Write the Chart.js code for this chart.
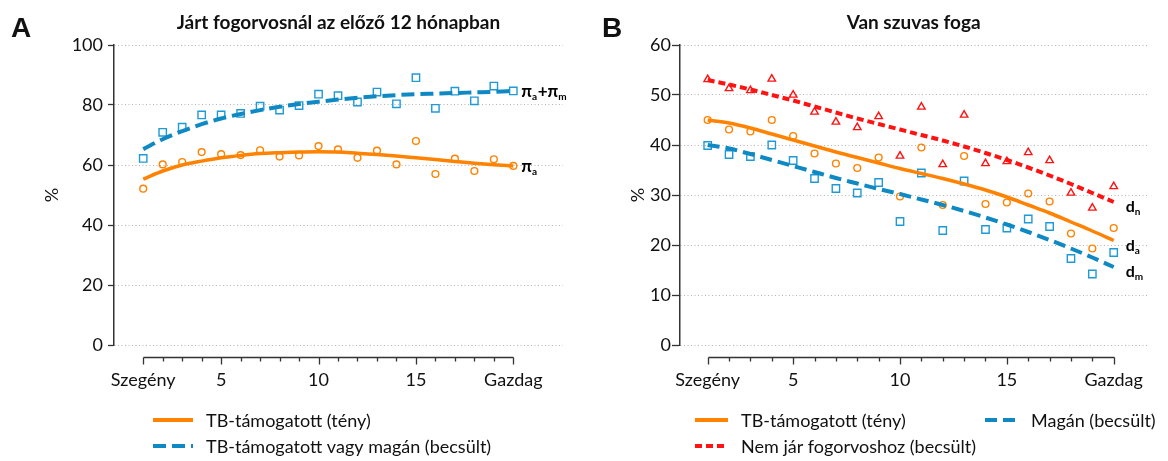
<!DOCTYPE html>
<html><head><meta charset="utf-8">
<script src="https://cdn.jsdelivr.net/npm/chart.js@4/dist/chart.umd.min.js"></script>
<style>
html,body{margin:0;padding:0;background:#fff;}
#wrap{position:relative;width:1168px;height:461px;overflow:hidden;}
.c{position:absolute;top:0;width:584px;height:461px;}
</style></head><body>
<div id="wrap">
<div class="c" style="left:0"><canvas id="cA" width="584" height="461"></canvas></div>
<div class="c" style="left:584px"><canvas id="cB" width="584" height="461"></canvas></div>
</div>
<script>
// ---------- DATA ----------
const deciles = [1,2,3,4,5,6,7,8,9,10,11,12,13,14,15,16,17,18,19,20];
const xTickValues = deciles;
const xLabelPositions = [1,5,10,15,20];
const xLabelTexts = ['Szegény','5','10','15','Gazdag'];
const yTicksA = [0,20,40,60,80,100];
const yTicksB = [0,10,20,30,40,50,60];

// Panel A: Járt fogorvosnál az előző 12 hónapban
const aTotalPts = [62.2,70.9,72.6,76.7,76.7,77.2,79.6,78.3,79.8,83.6,83.1,81.0,84.3,80.4,89.1,78.9,84.6,81.4,86.3,84.7];
const aTotalFit = [65.3,68.6,71.3,73.6,75.5,77.0,78.3,79.4,80.3,81.1,81.8,82.4,82.9,83.3,83.6,83.8,84.0,84.2,84.4,84.7];
const aPublicPts = [52.1,60.2,61.0,64.3,63.6,63.3,64.9,62.8,63.2,66.3,65.2,62.4,64.8,60.2,68.0,57.0,62.1,58.0,61.9,59.7];
const aPublicFit = [55.3,58.0,60.0,61.3,62.4,63.2,63.8,64.1,64.3,64.4,64.3,63.9,63.5,63.0,62.4,61.8,61.2,60.6,60.1,59.7];

// Panel B: Van szuvas foga
const bNonePts = [53.1,51.3,50.9,53.2,50.0,46.6,44.6,43.5,45.7,37.8,47.6,36.1,46.0,36.3,36.7,38.5,36.9,30.4,27.4,31.7];
const bNoneFit = [53.0,52.1,51.1,50.0,48.9,47.7,46.5,45.3,44.2,43.1,42.0,40.9,39.7,38.4,37.0,35.5,33.9,32.2,30.4,28.6];
const bPublicPts = [45.0,43.1,42.7,45.0,41.8,38.3,36.3,35.4,37.5,29.7,39.5,28.0,37.8,28.2,28.5,30.3,28.7,22.3,19.3,23.4];
const bPublicFit = [45.0,44.4,43.4,42.2,41.0,39.8,38.6,37.5,36.4,35.3,34.3,33.3,32.2,31.0,29.6,28.0,26.4,24.6,22.8,20.9];
const bPrivatePts = [39.9,38.1,37.7,40.0,36.9,33.3,31.3,30.4,32.5,24.7,34.4,22.9,32.8,23.1,23.4,25.2,23.7,17.3,14.2,18.5];
const bPrivateFit = [40.0,39.3,38.2,37.0,35.8,34.6,33.4,32.3,31.2,30.2,29.1,28.0,26.8,25.5,24.1,22.6,21.0,19.3,17.5,15.6];

const titleA = 'Járt fogorvosnál az előző 12 hónapban';
const titleB = 'Van szuvas foga';
const legendA = ['TB-támogatott (tény)', 'TB-támogatott vagy magán (becsült)'];
const legendB = ['TB-támogatott (tény)', 'Magán (becsült)', 'Nem jár fogorvoshoz (becsült)'];

// ---------- STYLE ----------
const ORANGE = '#FF8200';
const BLUE = '#0E89C3';
const BLUE_PT = '#1E9AD6';
const RED = '#FF1212';
const TXT = '#111';
const FONT = 'Lato, "Open Sans", sans-serif';

const xy = arr => arr.map((v, i) => ({x: deciles[i], y: v}));

function lineDs(data, color, width, dash) {
  return {data: xy(data), borderColor: color, borderWidth: width, borderDash: dash, pointRadius: 0,
    fill: false, tension: 0.4, cubicInterpolationMode: 'monotone', borderCapStyle: 'butt'};
}
function ptDs(data, color, style, r) {
  return {data: xy(data), showLine: false, borderColor: color, backgroundColor: 'rgba(0,0,0,0)',
    pointStyle: style, pointRadius: r, pointBorderWidth: 1.4, pointHoverRadius: r};
}

function drawSubLabel(ctx, x, y, parts, big, small) {
  let cx = x;
  ctx.textAlign = 'left';
  ctx.textBaseline = 'alphabetic';
  for (const p of parts) {
    ctx.font = (p.sub ? '700 ' + small + 'px ' : '700 ' + big + 'px ') + FONT;
    ctx.fillText(p.t, cx, p.sub ? y + 3 : y);
    cx += ctx.measureText(p.t).width + (p.sub ? 0.5 : 0);
  }
}

function makeDecor(p) {
  return {
    id: 'decor' + p.letter,
    afterDraw(chart) {
      const ctx = chart.ctx, xs = chart.scales.x, ys = chart.scales.y, ca = chart.chartArea;
      ctx.save();
      // x axis line with ticks (offset below plot)
      const y0 = Math.round(ca.bottom + 12) + 0.5;
      ctx.strokeStyle = '#333'; ctx.lineWidth = 1.3; ctx.setLineDash([]);
      ctx.beginPath();
      ctx.moveTo(Math.round(xs.getPixelForValue(xTickValues[0])) + 0.5, y0);
      ctx.lineTo(Math.round(xs.getPixelForValue(xTickValues[xTickValues.length - 1])) + 0.5, y0);
      for (const v of xTickValues) {
        const px = Math.round(xs.getPixelForValue(v)) + 0.5;
        const len = xLabelPositions.includes(v) ? 7 : 4;
        ctx.moveTo(px, y0); ctx.lineTo(px, y0 + len);
      }
      ctx.stroke();
      // title
      ctx.fillStyle = TXT;
      ctx.font = '700 19px ' + FONT;
      ctx.textAlign = 'center'; ctx.textBaseline = 'alphabetic';
      ctx.fillText(p.title, (ca.left + ca.right) / 2, 29);
      // panel letter
      ctx.font = '700 28px "Liberation Sans", Arial, sans-serif';
      ctx.textAlign = 'left';
      ctx.fillText(p.letter, p.letterX, 37);
      // y axis title
      ctx.save();
      ctx.translate(p.pctX, (ca.top + ca.bottom) / 2);
      ctx.rotate(-Math.PI / 2);
      ctx.font = '18px ' + FONT;
      ctx.textAlign = 'center'; ctx.textBaseline = 'middle';
      ctx.fillText('%', 0, 0);
      ctx.restore();
      // end labels
      ctx.fillStyle = '#000';
      for (const e of p.endLabels) {
        const lx = xs.getPixelForValue(deciles[deciles.length - 1]) + p.endDx;
        const ly = ys.getPixelForValue(e.v) + e.dy;
        drawSubLabel(ctx, lx, ly, e.parts, e.big, e.small);
      }
      // legend
      for (const l of p.legend) {
        ctx.strokeStyle = l.color; ctx.lineWidth = l.w; ctx.setLineDash(l.dash);
        ctx.beginPath(); ctx.moveTo(l.x, l.y); ctx.lineTo(l.x + l.len, l.y); ctx.stroke();
        ctx.setLineDash([]);
        ctx.fillStyle = TXT; ctx.font = '18px ' + FONT;
        ctx.textAlign = 'left'; ctx.textBaseline = 'middle';
        ctx.fillText(l.text, l.x + l.len + 13, l.y + 1);
      }
      ctx.restore();
    }
  };
}

function makePanel(id, p) {
  return new Chart(document.getElementById(id), {
    type: 'line',
    data: {datasets: p.datasets},
    options: {
      responsive: false, animation: false, devicePixelRatio: 1,
      events: [],
      layout: {padding: {top: 45, left: 0, right: p.padRight, bottom: 56}},
      plugins: {legend: {display: false}, tooltip: {enabled: false}, title: {display: false}},
      scales: {
        x: {
          type: 'linear', min: p.xMin, max: p.xMax,
          afterBuildTicks: s => { s.ticks = xTickValues.map(v => ({value: v})); },
          afterFit: s => { s.height = 60; },
          grid: {display: false, drawTicks: false},
          border: {display: false},
          ticks: {autoSkip: false, maxRotation: 0, minRotation: 0, padding: 24, color: TXT,
            font: {family: FONT, size: 18},
            callback: v => { const i = xLabelPositions.indexOf(v); return i >= 0 ? xLabelTexts[i] : ''; }}
        },
        y: {
          type: 'linear', min: p.yTicks[0], max: p.yTicks[p.yTicks.length - 1],
          afterBuildTicks: s => { s.ticks = p.yTicks.map(v => ({value: v})); },
          afterFit: s => { s.width = p.yAxisWidth; },
          grid: {color: '#b5b5b5', lineWidth: 1, tickLength: p.tickLen, tickColor: '#333', tickWidth: 1.3, tickBorderDash: []},
          border: {display: true, color: '#333', width: 1.5, dash: [1, 2.5]},
          ticks: {padding: p.tickPad, color: TXT, font: {family: FONT, size: 18}}
        }
      }
    },
    plugins: [makeDecor(p)]
  });
}

// Panel A
makePanel('cA', {
  letter: 'A', letterX: 11, title: titleA, pctX: 52,
  xMin: -0.5, xMax: 22.55, padRight: 21, yAxisWidth: 114, tickLen: 6, tickPad: 5,
  yTicks: yTicksA,
  datasets: [
    lineDs(aTotalFit, BLUE, 4, [13, 6]),
    lineDs(aPublicFit, ORANGE, 3.5, []),
    ptDs(aTotalPts, BLUE_PT, 'rect', 5.2),
    ptDs(aPublicPts, ORANGE, 'circle', 3.4)
  ],
  endDx: 8,
  endLabels: [
    {v: aTotalFit[aTotalFit.length - 1], dy: 6, big: 17, small: 10,
      parts: [{t: 'π'}, {t: 'a', sub: true}, {t: '+'}, {t: 'π'}, {t: 'm', sub: true}]},
    {v: aPublicFit[aPublicFit.length - 1], dy: 6.5, big: 17, small: 10,
      parts: [{t: 'π'}, {t: 'a', sub: true}]}
  ],
  legend: [
    {text: legendA[0], color: ORANGE, w: 4, dash: [], x: 153, y: 420, len: 40},
    {text: legendA[1], color: BLUE, w: 4, dash: [13, 6], x: 153, y: 446, len: 40}
  ]
});

// Panel B
makePanel('cB', {
  letter: 'B', letterX: 18, title: titleB, pctX: 54,
  xMin: -0.295, xMax: 21.57, padRight: 15, yAxisWidth: 96, tickLen: 8, tickPad: 1,
  yTicks: yTicksB,
  datasets: [
    lineDs(bNoneFit, RED, 4, [7, 4]),
    lineDs(bPrivateFit, BLUE, 4, [12, 6]),
    lineDs(bPublicFit, ORANGE, 3.5, []),
    ptDs(bNonePts, RED, 'triangle', 4.3),
    ptDs(bPrivatePts, BLUE_PT, 'rect', 5.2),
    ptDs(bPublicPts, ORANGE, 'circle', 3.4)
  ],
  endDx: 12,
  endLabels: [
    {v: bNoneFit[bNoneFit.length - 1], dy: 10, big: 16, small: 10, parts: [{t: 'd'}, {t: 'n', sub: true}]},
    {v: bPublicFit[bPublicFit.length - 1], dy: 10, big: 16, small: 10, parts: [{t: 'd'}, {t: 'a', sub: true}]},
    {v: bPrivateFit[bPrivateFit.length - 1], dy: 10, big: 16, small: 10, parts: [{t: 'd'}, {t: 'm', sub: true}]}
  ],
  legend: [
    {text: legendB[0], color: ORANGE, w: 4, dash: [], x: 111, y: 420, len: 33},
    {text: legendB[1], color: BLUE, w: 4, dash: [12, 6], x: 401, y: 420, len: 33},
    {text: legendB[2], color: RED, w: 4, dash: [7, 4], x: 111, y: 446, len: 33}
  ]
});
</script>
</body></html>
